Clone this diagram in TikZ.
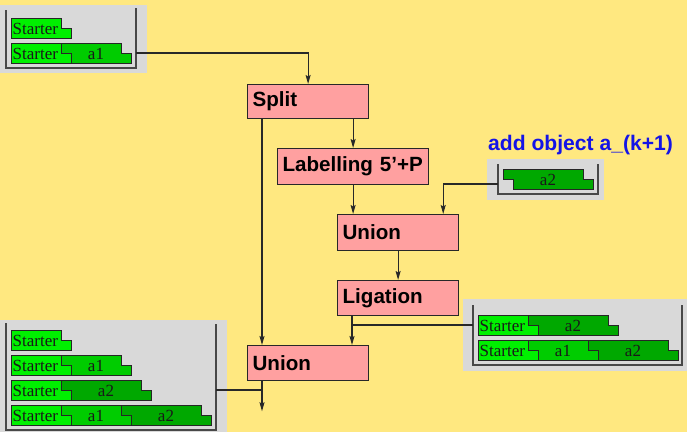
\documentclass[tikz,border=0pt]{standalone}
\usepackage{fontspec}
\setmainfont{Liberation Serif}
\newfontfamily\labelfont{Liberation Sans}
\usetikzlibrary{arrows.meta,calc}

\definecolor{bgyellow}{RGB}{255,232,128}
\definecolor{panelgray}{RGB}{217,217,217}
\definecolor{boxpink}{RGB}{255,160,160}
\definecolor{gStarter}{RGB}{0,240,0}
\definecolor{gA}{RGB}{0,204,0}
\definecolor{gB}{RGB}{0,168,0}
\definecolor{ink}{RGB}{40,40,40}
\definecolor{titleblue}{RGB}{20,20,230}

\tikzset{
  proc/.style={draw=ink, line width=1.2pt, fill=boxpink, anchor=north west,
    inner xsep=5pt, inner ysep=0pt, align=left,
    font=\labelfont\bfseries\fontsize{20.6}{24}\selectfont},
  link/.style={draw=ink, line width=1.1pt},
  arr/.style={link, -{Stealth[length=9pt,width=5pt,inset=1.5pt]}},
  rack/.style={draw=ink!85, line width=1.5pt},
  segline/.style={draw=black!85, line width=1pt},
  seglabel/.style={inner sep=0pt, text=black!90, font=\fontsize{17}{18}\selectfont},
}

% first piece of a strand: straight left edge, stepped right edge
\newcommand\firstseg[5]{%
  \filldraw[segline, fill=#4] (#1,#2) -- ++(#3,0) -- ++(0,10) -- ++(10,0)
    -- ++(0,10) -- (#1,#2+20) -- cycle;
  \node[seglabel, anchor=west] at (#1+1.5,#2+10.5) {#5};}
% following piece: left edge fits the step of the piece before it
\newcommand\nextseg[5]{%
  \filldraw[segline, fill=#4] (#1,#2) -- ++(#3,0) -- ++(0,10) -- ++(10,0)
    -- ++(0,10) -- (#1+10,#2+20) -- (#1+10,#2+10) -- (#1,#2+10) -- cycle;
  \node[seglabel] at (#1+5+#3/2,#2+10.5) {#5};}

\begin{document}
\begin{tikzpicture}[x=1pt,y=-1pt]
  \useasboundingbox (0,0) rectangle (687,432);
  \fill[bgyellow] (0,0) rectangle (687,432);

  % ---- input rack (top left)
  \fill[panelgray] (0,5) rectangle (147,73);
  \draw[rack] (6,10) -- (6,68) -- (136,68) -- (136,8);
  \firstseg{11}{18}{50}{gStarter}{Starter}
  \firstseg{11}{43}{50}{gStarter}{Starter}
  \nextseg{61}{43}{60}{gA}{a1}
  \coordinate (tlout) at (136,53);

  % ---- added object rack
  \node[font=\labelfont\bfseries\fontsize{21.1}{24}\selectfont, text=titleblue,
        anchor=base west, inner sep=0pt] (addtitle) at (488,150) {add object a\_(k+1)};
  \fill[panelgray] (487,159) rectangle (604,200);
  \draw[rack] (498,164) -- (498,194) -- (598,194) -- (598,164);
  \nextseg{503}{169}{80}{gB}{a2}
  \coordinate (a2out) at (498,184);

  % ---- right rack
  \fill[panelgray] (463,299) rectangle (687,371);
  \draw[rack] (473,305) -- (473,365) -- (682,365) -- (682,305);
  \firstseg{478}{315}{50}{gStarter}{Starter}
  \nextseg{528}{315}{80}{gB}{a2}
  \firstseg{478}{340}{50}{gStarter}{Starter}
  \nextseg{528}{340}{60}{gA}{a1}
  \nextseg{588}{340}{80}{gB}{a2}
  \coordinate (rpout) at (473,325);

  % ---- output rack (bottom left)
  \fill[panelgray] (0,320) rectangle (227,432);
  \draw[rack] (6,323) -- (6,430) -- (216,430) -- (216,324);
  \firstseg{11}{330}{50}{gStarter}{Starter}
  \firstseg{11}{355}{50}{gStarter}{Starter}
  \nextseg{61}{355}{60}{gA}{a1}
  \firstseg{11}{380}{50}{gStarter}{Starter}
  \nextseg{61}{380}{80}{gB}{a2}
  \firstseg{11}{405}{50}{gStarter}{Starter}
  \nextseg{61}{405}{60}{gA}{a1}
  \nextseg{121}{405}{80}{gB}{a2}
  \coordinate (blout) at (216,390);

  % ---- process steps
  \node[proc, minimum width=121pt, text width=111pt, minimum height=34pt] (split) at (247,84) {\mbox{Split}};
  \node[proc, minimum width=151pt, text width=141pt, minimum height=36pt] (label) at (277,148) {\mbox{Labelling 5’+P}};
  \node[proc, minimum width=121pt, text width=111pt, minimum height=36pt] (union1) at (337,214) {\mbox{Union}};
  \node[proc, minimum width=121pt, text width=111pt, minimum height=35pt] (ligation) at (337,280) {\mbox{Ligation}};
  \node[proc, minimum width=121pt, text width=111pt, minimum height=35pt] (union2) at (247,345) {\mbox{Union}};

  % ---- connectors
  \draw[arr] (tlout) -| (split.north);
  \draw[arr] (split.south -| label.north) -- (label.north);
  \draw[arr] (label.south) -- (label.south |- union1.north);
  \draw[arr] (a2out) -| ($(union1.north east)+(-16,0)$);
  \draw[arr] (union1.south) -- (ligation.north);
  \coordinate (ligdown) at ($(ligation.south west)+(15,0)$);
  \draw[arr] (ligdown) -- (ligdown |- union2.north);
  \draw[link] (rpout) -- (rpout -| ligdown);
  \coordinate (splitdown) at ($(split.south west)+(15,0)$);
  \draw[arr] (splitdown) -- (splitdown |- union2.north);
  \coordinate (outend) at ($(union2.south west)+(15,30)$);
  \draw[arr] (union2.south west -| splitdown) -- (outend);
  \draw[link] (blout) -- (blout -| outend);
\end{tikzpicture}
\end{document}
